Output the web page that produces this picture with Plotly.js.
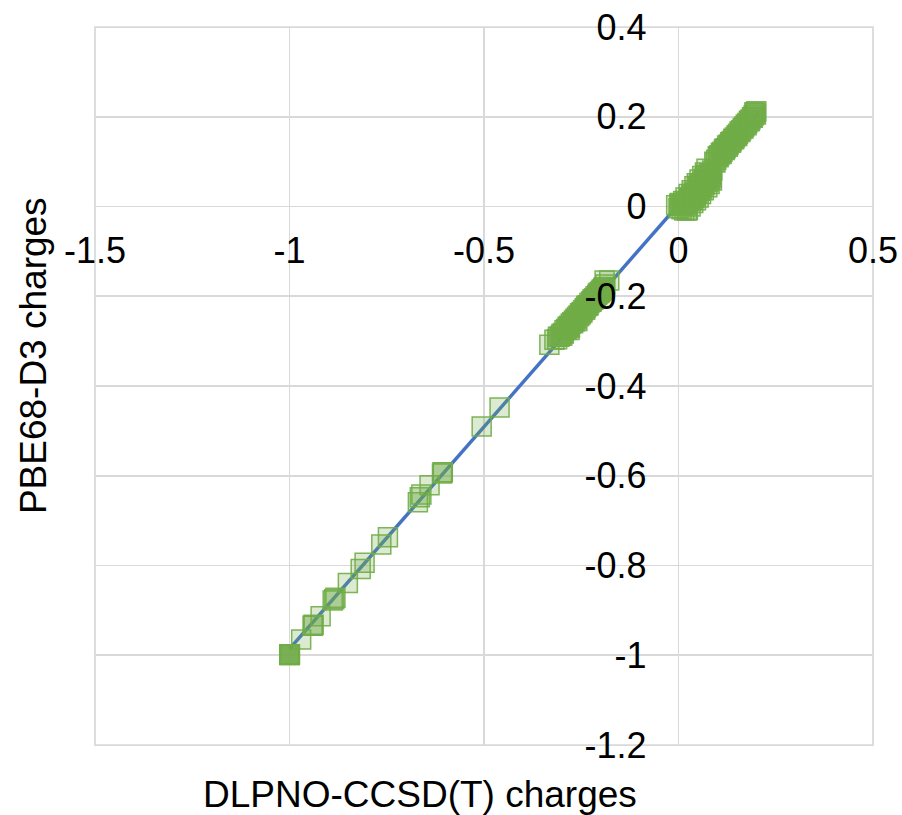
<!DOCTYPE html>
<html>
<head>
<meta charset="utf-8">
<script src="https://cdn.plot.ly/plotly-3.0.1.min.js"></script>
<style>html,body{margin:0;padding:0;background:#fff;}#chart{width:902px;height:815px;}</style>
</head>
<body>
<div id="chart"></div>
<script>
// Sparse points between -1 and -0.45
const sparseX = [-0.460, -0.506, -0.606, -0.606, -0.608, -0.640, -0.661, -0.670, -0.665, -0.747, -0.764, -0.807, -0.817, -0.850, -0.882, -0.889, -0.885, -0.920, -0.940, -0.940, -0.938, -0.970, -1.000, -1.000, -1.000, -0.999, -1.000, -1.000, -0.999, -1.000, -1.000];
const sparseY = [-0.448, -0.490, -0.592, -0.592, -0.595, -0.621, -0.642, -0.659, -0.648, -0.737, -0.753, -0.794, -0.808, -0.839, -0.872, -0.878, -0.875, -0.913, -0.934, -0.934, -0.932, -0.965, -0.999, -0.999, -0.998, -0.999, -0.999, -1.000, -0.998, -0.999, -0.999];

// Cluster around -0.33 .. -0.18
const negX = [-0.332, -0.319, -0.312, -0.306, -0.301, -0.297, -0.293, -0.289, -0.285, -0.281, -0.277, -0.273, -0.269, -0.265, -0.261, -0.257, -0.253, -0.249, -0.245, -0.241, -0.237, -0.233, -0.229, -0.225, -0.221, -0.217, -0.213, -0.209, -0.205, -0.201, -0.197, -0.193, -0.188, -0.190, -0.178, -0.280, -0.260, -0.240,
              -0.310, -0.303, -0.295, -0.287, -0.279, -0.271, -0.263, -0.255, -0.247, -0.239, -0.231, -0.223, -0.215, -0.207, -0.199, -0.192, -0.299, -0.283, -0.267, -0.251, -0.235, -0.219, -0.203, -0.196];
const negY = [-0.308, -0.297, -0.296, -0.290, -0.284, -0.282, -0.276, -0.273, -0.268, -0.266, -0.261, -0.258, -0.254, -0.250, -0.246, -0.243, -0.238, -0.235, -0.231, -0.227, -0.222, -0.220, -0.215, -0.212, -0.207, -0.205, -0.200, -0.197, -0.192, -0.190, -0.185, -0.182, -0.174, -0.165, -0.165, -0.275, -0.255, -0.230,
              -0.290, -0.288, -0.283, -0.274, -0.270, -0.260, -0.251, -0.244, -0.236, -0.226, -0.220, -0.211, -0.204, -0.194, -0.188, -0.180, -0.288, -0.269, -0.256, -0.240, -0.222, -0.208, -0.193, -0.186];

// Cluster around 0 .. 0.09
const lowX = [-0.006, 0.000, 0.004, 0.008, 0.012, 0.015, 0.018, 0.020, 0.024, 0.026, 0.029, 0.031, 0.034, 0.036, 0.038, 0.041, 0.043, 0.045, 0.047, 0.049, 0.052, 0.054, 0.056, 0.058, 0.061, 0.063, 0.065, 0.068, 0.070, 0.072, 0.074, 0.077, 0.080, 0.083, 0.086, 0.087, 0.010, 0.040, 0.060, 0.022,
              0.002, 0.006, 0.014, 0.017, 0.027, 0.033, 0.039, 0.044, 0.050, 0.055, 0.059, 0.064, 0.067, 0.071, 0.076, 0.079, 0.082, 0.085, 0.030, 0.048, 0.066, 0.035, 0.053];
const lowY = [0.003, -0.004, 0.008, -0.006, 0.012, -0.009, 0.020, 0.004, -0.008, 0.028, 0.012, 0.000, 0.036, 0.022, 0.008, 0.045, 0.030, 0.014, 0.052, 0.038, 0.020, 0.060, 0.044, 0.028, 0.068, 0.052, 0.036, 0.076, 0.060, 0.084, 0.043, 0.066, 0.050, 0.072, 0.058, 0.080, 0.002, 0.020, 0.040, -0.009,
              0.006, 0.001, 0.004, 0.010, 0.016, 0.026, 0.031, 0.024, 0.046, 0.035, 0.050, 0.056, 0.048, 0.070, 0.055, 0.074, 0.062, 0.066, 0.020, 0.030, 0.062, 0.014, 0.050];

// Band around 0.09 .. 0.2
const highX = [0.092, 0.097, 0.101, 0.105, 0.109, 0.113, 0.117, 0.121, 0.125, 0.129, 0.133, 0.137, 0.141, 0.145, 0.149, 0.153, 0.157, 0.161, 0.165, 0.169, 0.173, 0.177, 0.181, 0.185, 0.189, 0.193, 0.197, 0.200, 0.199, 0.195,
               0.095, 0.103, 0.111, 0.119, 0.127, 0.135, 0.143, 0.151, 0.159, 0.167, 0.175, 0.183, 0.191];
const highY = [0.100, 0.104, 0.112, 0.114, 0.120, 0.122, 0.128, 0.130, 0.136, 0.138, 0.143, 0.146, 0.151, 0.154, 0.158, 0.162, 0.167, 0.170, 0.175, 0.178, 0.183, 0.186, 0.191, 0.194, 0.199, 0.203, 0.208, 0.212, 0.205, 0.210,
               0.098, 0.110, 0.117, 0.126, 0.133, 0.142, 0.150, 0.157, 0.166, 0.174, 0.181, 0.190, 0.198];

// Linear trend line end points
const trendX = [-1.000, 0.205];
const trendY = [-0.986, 0.207];

// Tick labels
const xTickVals = [-1.5, -1, -0.5, 0, 0.5];
const xTickText = ['-1.5', '-1', '-0.5', '0', '0.5'];
const yTickVals = [-1.2, -1, -0.8, -0.6, -0.4, -0.2, 0, 0.2, 0.4];
const yTickText = ['-1.2', '-1', '-0.8', '-0.6', '-0.4', '-0.2', '0', '0.2', '0.4'];

const xTitle = 'DLPNO-CCSD(T) charges';
const yTitle = 'PBE68-D3 charges';

const allX = sparseX.concat(negX, lowX, highX);
const allY = sparseY.concat(negY, lowY, highY);

const FONT = 'Liberation Sans, Arial, sans-serif';
const GRID = '#d9d9d9';

const traces = [
  {
    x: trendX, y: trendY, type: 'scatter', mode: 'lines',
    line: {color: '#4472C4', width: 3.5}, hoverinfo: 'skip', showlegend: false
  },
  {
    x: allX, y: allY, type: 'scatter', mode: 'markers',
    marker: {symbol: 'square', size: 19, color: 'rgba(112,173,71,0.25)',
             line: {color: 'rgba(112,173,71,0.9)', width: 1.5}},
    showlegend: false
  }
];

const layout = {
  width: 902, height: 815,
  margin: {l: 95, r: 29, t: 27, b: 70},
  paper_bgcolor: '#ffffff', plot_bgcolor: '#ffffff',
  showlegend: false,
  font: {family: FONT, size: 36, color: '#000000'},
  xaxis: {
    range: [-1.5, 0.5], tickvals: xTickVals, ticktext: xTickText,
    showgrid: true, gridcolor: GRID, gridwidth: 1.75,
    zeroline: true, zerolinecolor: GRID, zerolinewidth: 1.75,
    showline: false, ticks: '', anchor: 'free', position: 0.75,
    ticklabelstandoff: 19,
    tickfont: {family: FONT, size: 36, color: '#000000'}
  },
  yaxis: {
    range: [-1.2, 0.4], tickvals: yTickVals, ticktext: yTickText,
    showgrid: true, gridcolor: GRID, gridwidth: 1.75,
    zeroline: true, zerolinecolor: GRID, zerolinewidth: 1.75,
    showline: false, ticks: '', anchor: 'free', position: 0.75,
    ticklabelstandoff: 32,
    tickfont: {family: FONT, size: 36, color: '#000000'}
  },
  shapes: [
    {type: 'rect', xref: 'paper', yref: 'paper', x0: 0, x1: 1, y0: 0, y1: 1,
     line: {color: GRID, width: 1.75}, layer: 'below'}
  ],
  annotations: [
    {text: xTitle, xref: 'paper', yref: 'paper', x: 0.4177, y: -0.0696,
     xanchor: 'center', yanchor: 'middle', showarrow: false,
     font: {family: FONT, size: 37, color: '#000000'}},
    {text: yTitle, xref: 'paper', yref: 'paper', x: -0.0797, y: 0.543,
     xanchor: 'center', yanchor: 'middle', showarrow: false, textangle: -90,
     font: {family: FONT, size: 37, color: '#000000'}}
  ]
};

Plotly.newPlot('chart', traces, layout, {displayModeBar: false, staticPlot: true});
</script>
</body>
</html>
